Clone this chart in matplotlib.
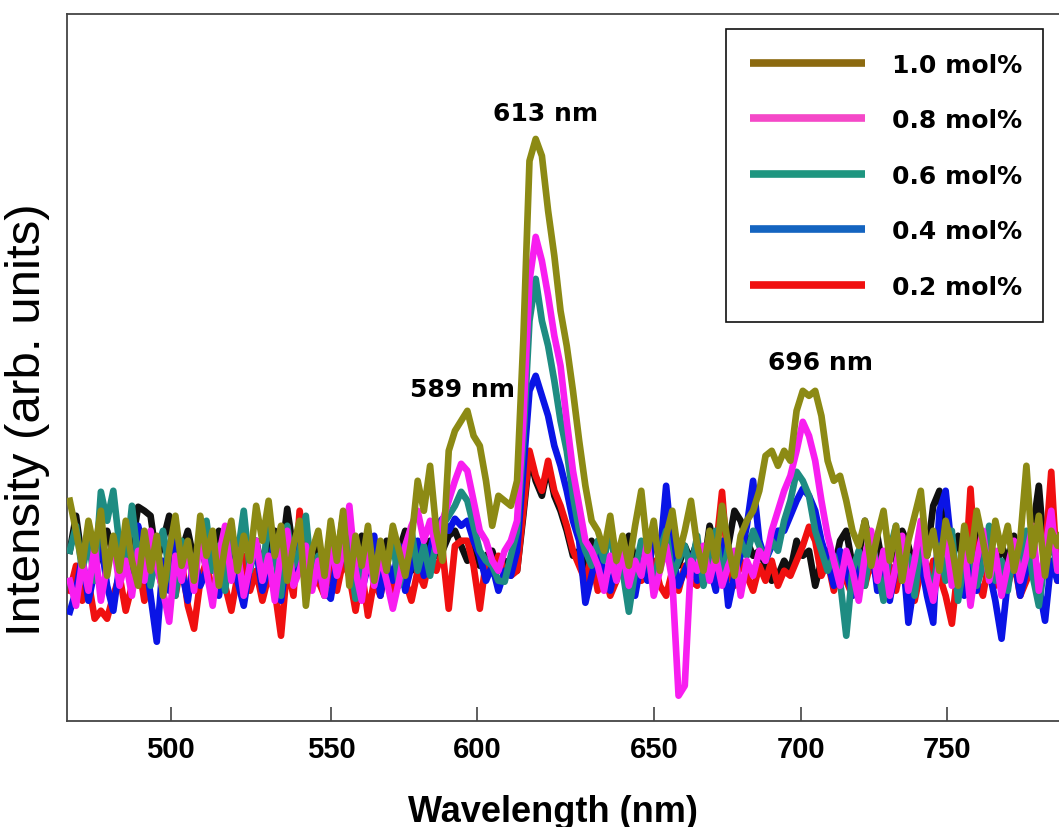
import numpy as np
import matplotlib
matplotlib.use("Agg")
import matplotlib.pyplot as plt
from matplotlib.lines import Line2D

# --- data (intensity in arbitrary units) -------------------------------------
wavelength = np.arange(466, 787, 2)

olive = [
    22, 19, 15.5, 20, 17, 21, 14.5, 18.5, 15, 20,          # 466-484
    16, 13.5, 19, 15, 18.5, 12.5, 17, 20.5, 15.5, 18,      # 486-504
    14, 20.5, 16.5, 19, 13.5, 17.5, 20, 15, 18.5, 16,      # 506-524
    21.5, 18, 22, 16.5, 19.5, 14, 17.5, 20, 11.5, 17,      # 526-544
    19, 14.5, 20, 16, 21, 13.5, 18.5, 15.5, 19.5, 14,      # 546-564
    18, 15, 19.5, 17, 14.5, 18, 24, 21, 25.5, 19,          # 566-584
    16, 27, 29, 30, 31, 28.5, 27.5, 24, 19.5, 22.5,        # 586-604
    22, 21.5, 24, 38, 56, 58.2, 56.5, 51, 46.5, 41,        # 606-624
    37.5, 33, 28, 23.5, 20, 19, 17, 20.5, 16, 18.5,        # 626-644
    15.5, 19.5, 23, 17, 20, 15, 18.5, 21, 16.5, 19,        # 646-664
    22, 17.5, 15, 19, 16, 21.5, 17.5, 14.5, 18.5, 20,      # 666-684
    21, 23, 26.5, 27, 25.5, 27, 26, 31, 33, 32.5,          # 686-704
    33, 30.5, 26, 24, 24.5, 22, 19, 17.5, 20, 15.5,        # 706-724
    18.5, 21, 16, 19.5, 14, 18, 20.5, 23, 16.5, 19,        # 726-744
    15, 20, 17.5, 13.5, 19.5, 16, 21, 18, 14.5, 20,        # 746-764
    17, 19.5, 15, 18, 25.5, 16.5, 20.5, 14.5, 19, 17.5,    # 766-784
    20]

magenta = [
    14, 11.5, 16, 13, 17.5, 12, 15.5, 18, 13.5, 16,
    12.5, 17, 14, 19, 15.5, 13, 9.9, 16.5, 14, 17.5,
    13, 18.5, 15, 11.5, 16.5, 19.5, 14, 17, 12.5, 15.5,
    18, 14, 16.5, 12, 17, 19, 13.5, 15, 17.5, 13,
    16, 12.5, 18, 14.5, 17, 21.5, 15, 12, 17, 13.5,
    16.5, 14, 11.2, 14, 17.5, 19.5, 21, 18, 20, 17,
    20, 22, 24, 25.7, 25, 22, 19, 18, 16, 15,
    17, 18, 20, 30, 44, 48.4, 46, 42.5, 38.5, 35.5,
    30, 25, 21.5, 18, 17, 15.5, 13, 16.5, 14, 17,
    13.5, 16, 14.5, 18, 12.5, 15, 17.5, 14, 2.5, 3.5,
    16, 15, 17.5, 14, 16.5, 13.5, 15.5, 17, 12.5, 16,
    14.5, 17, 16, 19, 21, 23, 24.5, 27, 29.9, 28.5,
    26, 22, 18.5, 16, 13.5, 17, 15, 12, 16.5, 19,
    14, 17, 12.5, 15.5, 18.5, 13, 16, 20, 14.5, 12,
    16, 18.5, 13.5, 15, 17.5, 11.5, 16, 19, 14, 17,
    12.5, 15.5, 18, 14, 16.5, 19.5, 13, 17, 21, 15,
    18]

teal = [
    17, 19.5, 15, 18, 14, 22.9, 20, 23, 17.5, 15.5,
    21.5, 16, 18.5, 13.5, 17, 19, 15, 12.5, 18, 16,
    14.5, 18.5, 20, 15, 17.5, 13, 19, 16.5, 21, 15,
    18, 14, 21, 16.5, 12.5, 19.5, 15.5, 17, 20.5, 14,
    16.5, 12.5, 18, 15, 20, 17, 12.2, 16, 18.5, 14,
    17, 15.5, 18, 13.5, 16, 19, 15, 17.5, 14.5, 18,
    19.5, 20.5, 21.5, 22.9, 22, 19.5, 17, 16, 15.5, 14,
    13.9, 16.5, 19, 28, 40, 44.2, 40, 37.5, 34, 30,
    27, 22.5, 19, 17, 15.5, 18, 16, 19.5, 14.5, 15,
    10.9, 15, 18, 16.5, 13.5, 17, 19, 14.5, 16, 17.5,
    15, 18.5, 13.5, 16, 19, 14, 17.5, 15, 18, 16.5,
    19, 17.5, 16, 18, 17, 20, 22, 24.9, 24, 22.5,
    19, 17, 15, 16.5, 14, 8.5, 15, 17, 13.5, 18,
    15.5, 12, 17, 19.5, 14, 16.5, 12.5, 18, 15, 13,
    17.5, 14, 19, 12, 16, 18, 13.5, 15.5, 19.5, 14,
    16, 13, 17.5, 15, 19, 14.5, 11.5, 16, 18.5, 15,
    17]

blue = [
    10.9, 13, 16.5, 12, 15, 18, 13.5, 11, 15.5, 17.5,
    14, 19.5, 17, 12.5, 7.9, 16, 13, 18, 15, 12,
    16.5, 13.5, 15, 18.5, 12.5, 16, 19, 14, 11.5, 15.5,
    17, 13, 15.5, 18, 12, 16.5, 14, 19, 13, 15,
    15, 13, 12.2, 16, 18, 14.5, 17, 13, 15.5, 18.5,
    12.5, 16, 14, 17.5, 13, 15.5, 18, 14.5, 17, 19.5,
    20.2, 19, 20.2, 19.5, 20, 18, 16.5, 14, 15.5, 13,
    15, 14.5, 17, 25, 33, 34.5, 32.5, 30.5, 27.5, 25.5,
    23, 20, 18, 11.8, 14.5, 17, 15, 13, 16, 18,
    15, 12.5, 16, 14, 19, 16.5, 23.5, 17, 13.5, 15,
    16.5, 14, 17, 15.5, 13, 18, 11.5, 14.5, 16.5, 19.5,
    24, 18, 16, 17.5, 19, 19, 20.5, 22, 23.2, 22.5,
    21, 18, 16, 13.5, 17, 15, 12.5, 16.5, 14, 18,
    13, 16, 12, 15.5, 17.5, 9.8, 14, 16, 12.5, 9.8,
    21, 23, 17, 14, 12.5, 16, 13, 17.5, 15, 12,
    8.2, 14, 16.5, 12.5, 15, 18, 13.5, 10, 16, 14,
    15.5]

red = [
    13, 15.5, 12, 14, 10.2, 11, 10.2, 12.5, 14.5, 11,
    13.5, 16, 12, 14.5, 15.5, 13, 15, 12.5, 16, 11.5,
    9.2, 14, 16, 12.5, 15, 13.5, 11, 14.5, 16.5, 13,
    15, 12, 14.5, 13, 8.5, 15.5, 12.5, 21, 16, 13.5,
    14, 12.5, 15.5, 13, 16, 14.5, 11, 15, 10.5, 14,
    12.5, 15.5, 13, 16, 14, 12, 15, 13.5, 16.5, 15,
    17, 11.2, 17.5, 18, 18, 15.5, 11.2, 16, 15, 16.5,
    15, 14.5, 15, 21, 27, 24.5, 23, 26, 23, 21.5,
    19.5, 17, 15.5, 14, 16.5, 13, 15, 12.5, 14, 16,
    13.5, 15, 14, 14.5, 16, 13.5, 12.5, 15, 13, 15.5,
    14, 13.5, 16, 14.5, 17, 22.9, 15, 13.5, 16, 14.5,
    13, 15.5, 14, 16, 13.5, 15, 14.5, 16, 17.5, 19.4,
    18, 14.5, 16, 13, 15.5, 14, 12.5, 15, 13.5, 16,
    14, 12.5, 15.5, 13, 16, 14.5, 12, 15, 13.5, 16,
    14.5, 12.5, 9.7, 15.5, 13, 23.2, 14, 12.5, 16, 13.5,
    15, 13.5, 16, 12.5, 14, 15.5, 13, 16.5, 24.9, 14,
    15]

# undoped trace (black, not in the legend)
black = [
    17, 20.5, 16, 18.5, 15, 17, 19, 16.5, 18, 15.5,
    17.5, 21.4, 21, 20.5, 16, 18, 20.5, 15.5, 17, 19,
    16, 18.5, 15, 17.5, 19, 14.5, 17, 18, 15.5, 16.5,
    18, 15, 17.5, 19, 16, 21.2, 17, 15.5, 18, 16,
    17.5, 15, 18, 16, 20.5, 17, 14.5, 18.5, 16, 17,
    15.5, 18, 16.5, 17, 19, 15, 17.5, 16, 18, 16.5,
    17, 18.5, 19, 17.5, 16, 18, 15.5, 16.5, 17, 15,
    16, 15.5, 15, 20.5, 26.5, 24, 22.5, 25.5, 22.5, 21,
    19, 16.5, 17, 15.5, 18, 16, 17.5, 19, 15.5, 17,
    18.5, 16, 17, 15, 18, 16.5, 17, 19, 15.5, 17.5,
    16, 18, 15, 19.5, 17, 16, 17.5, 21, 20, 18,
    16.5, 17, 15.5, 14, 14.5, 16, 15, 18, 16.5, 17,
    13.5, 16, 17, 15, 18, 19, 15.5, 16.5, 20, 17,
    18.5, 15, 17, 16, 19, 17.5, 15, 18, 16.5, 21.5,
    23, 17, 16, 18.5, 15.5, 17, 19, 16, 18, 15,
    17.5, 16, 18.5, 15.5, 17, 19, 23.5, 16, 17.5, 16,
    17]

labels = ["1.0 mol%", "0.8 mol%", "0.6 mol%", "0.4 mol%", "0.2 mol%"]
tick_labels = ["500", "550", "600", "650", "700", "750"]
peaks = [("589 nm", 592.5, 33.2), ("613 nm", 619.1, 60.8), ("696 nm", 707.6, 35.9)]

# ticks in the source figure are not evenly spaced; keep them where they sit
tick_pos = [498.5, 550.1, 597.2, 654.1, 701.4, 748.5]

# --- style -------------------------------------------------------------------
C_OLIVE, C_MAG, C_TEAL, C_BLUE, C_RED = "#8C8A14", "#F81EF0", "#1E8C82", "#0A14E6", "#F01010"
LEG_COLORS = ["#8C6A10", "#F548C8", "#1E9680", "#1464C0", "#F01010"]
SPINE = "#444444"

fig = plt.figure(figsize=(10.59, 8.28), dpi=100)
ax = fig.add_axes([0.063, 0.1284, 0.942, 0.8535])

lw = 4.8
series = [(black, "#101010"), (red, C_RED), (blue, C_BLUE),
          (teal, C_TEAL), (magenta, C_MAG), (olive, C_OLIVE)]
for z, (vals, col) in enumerate(series):
    ax.plot(wavelength, vals, color=col, lw=lw, solid_joinstyle="round", zorder=z + 1)

ax.set_xlim(465.0, 786.2)
ax.set_ylim(0, 70.7)
ax.set_yticks([])
ax.set_xticks(tick_pos)
ax.set_xticklabels(tick_labels, fontfamily="Liberation Sans", fontweight="bold", fontsize=21)
ax.tick_params(axis="x", direction="in", length=10, width=1.2, color=SPINE, pad=10)
for s in ax.spines.values():
    s.set_color(SPINE)
    s.set_linewidth(1.3)

for txt, xp, yp in peaks:
    ax.text(xp, yp, txt, ha="center", va="center", fontfamily="DejaVu Sans",
            fontweight="bold", fontsize=18, zorder=10)

ax.set_xlabel("Wavelength (nm)", fontfamily="Liberation Sans", fontweight="bold", fontsize=26)
ax.xaxis.label.set_va("center")
ax.xaxis.set_label_coords(0.4876, -0.1278)
ax.set_ylabel("Intensity (arb. units)", fontfamily="Liberation Sans", fontsize=35.5)
ax.yaxis.label.set_va("center")
ax.yaxis.set_label_coords(-0.0398, 0.427)

handles = [Line2D([], [], color=c, lw=5.5, solid_capstyle="butt") for c in LEG_COLORS]
leg = ax.legend(handles, labels, loc="upper left", bbox_to_anchor=(0.661, 0.56, 0.318, 0.4188),
                mode="expand", borderaxespad=0, fancybox=False, framealpha=1,
                edgecolor="#111111", handlelength=4.6, handletextpad=1.1,
                labelspacing=1.26, borderpad=0.95,
                prop={"family": "DejaVu Sans", "weight": "bold", "size": 18})
leg.get_frame().set_linewidth(1.2)
leg.set_zorder(20)

fig.savefig("out.png", dpi=100)
